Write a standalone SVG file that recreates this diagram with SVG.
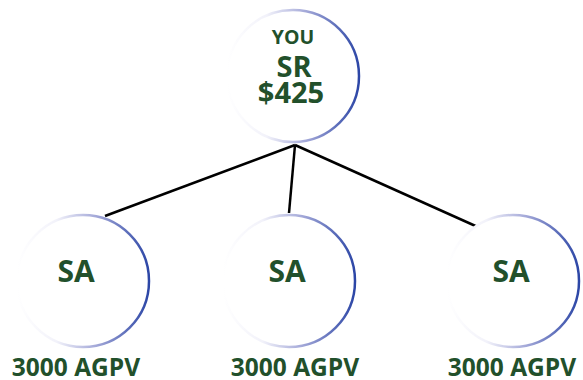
<svg xmlns="http://www.w3.org/2000/svg" width="583" height="380" viewBox="0 0 583 380">
<defs>
<linearGradient id="ring" x1="0" y1="0" x2="1" y2="0">
<stop offset="0" stop-color="#ffffff"/>
<stop offset="0.3" stop-color="#f2f2fa"/>
<stop offset="0.6" stop-color="#a3a8d8"/>
<stop offset="1" stop-color="#2c46a6"/>
</linearGradient>
<style>
.ring{fill:#ffffff;stroke:url(#ring);stroke-width:2.5}
.t{font-family:"Open Sans","DejaVu Sans",sans-serif;font-weight:bold;fill:#22502b;text-anchor:middle}
.conn{stroke:#000;stroke-width:2.5;fill:none}
</style>
</defs>
<g id="connectors">
<line class="conn" x1="295" y1="145" x2="105" y2="216"/>
<line class="conn" x1="295" y1="145" x2="289" y2="213"/>
<line class="conn" x1="295" y1="145" x2="480" y2="228"/>
</g>
<g id="node-you">
<circle class="ring" cx="293" cy="76" r="66"/>
<text class="t" x="293" y="44" font-size="19.5">YOU</text>
<text class="t" x="294" y="77" font-size="29">SR</text>
<text class="t" x="291" y="103" font-size="29">$425</text>
</g>
<g id="node-sa-left">
<circle class="ring" cx="83" cy="281" r="66"/>
<text class="t" x="76" y="282" font-size="30">SA</text>
<text class="t" x="76" y="376" font-size="24.5">3000 AGPV</text>
</g>
<g id="node-sa-mid">
<circle class="ring" cx="289" cy="281" r="66"/>
<text class="t" x="287" y="282" font-size="30">SA</text>
<text class="t" x="295" y="376" font-size="24.5">3000 AGPV</text>
</g>
<g id="node-sa-right">
<circle class="ring" cx="513" cy="281" r="66"/>
<text class="t" x="511" y="282" font-size="30">SA</text>
<text class="t" x="512" y="376" font-size="24.5">3000 AGPV</text>
</g>
</svg>
